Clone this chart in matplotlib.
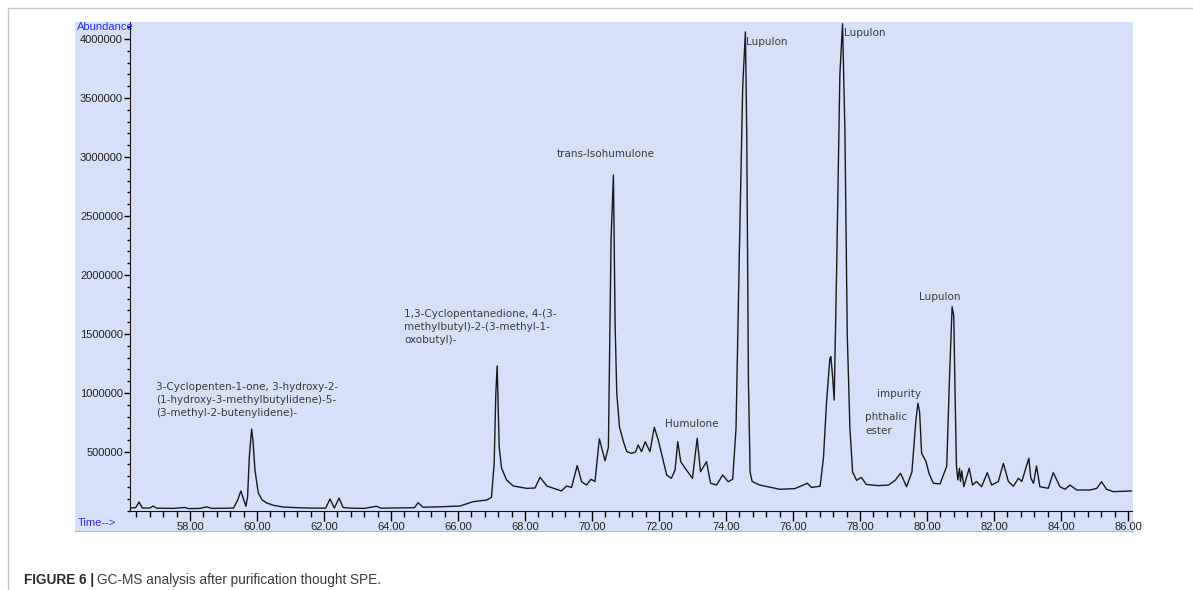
import matplotlib
matplotlib.use("Agg")
import matplotlib.pyplot as plt
from matplotlib.patches import Rectangle
from matplotlib.lines import Line2D
from matplotlib.ticker import MultipleLocator, FixedLocator, FormatStrFormatter

# ---------------------------------------------------------
# TRAZA DEL CROMATOGRAMA (tiempo en min, abundancia)
# ---------------------------------------------------------
tiempo = [
    56.21, 56.38, 56.48, 56.58, 56.80, 56.90, 57.00, 57.50, 57.85, 57.95,
    58.30, 58.50, 58.65, 59.00, 59.30, 59.42, 59.52, 59.60, 59.67, 59.72,
    59.77, 59.84, 59.88, 59.94, 60.04, 60.15, 60.29, 60.50, 60.78, 61.20,
    61.60, 62.05, 62.18, 62.31, 62.45, 62.57, 62.80, 63.20, 63.57, 63.70,
    64.30, 64.70, 64.81, 64.96, 65.50, 66.06, 66.45, 66.86, 67.00, 67.08,
    67.13, 67.17, 67.20, 67.23, 67.30, 67.45, 67.65, 68.05, 68.30, 68.45,
    68.65, 68.94, 69.09, 69.24, 69.39, 69.56, 69.69, 69.84, 69.97, 70.09,
    70.22, 70.39, 70.49, 70.57, 70.64, 70.69, 70.74, 70.82, 70.94, 71.04,
    71.18, 71.30, 71.38, 71.48, 71.59, 71.73, 71.86, 71.98, 72.23, 72.37,
    72.48, 72.56, 72.65, 72.82, 73.00, 73.14, 73.24, 73.42, 73.54, 73.72,
    73.90, 74.07, 74.20, 74.30, 74.40, 74.50, 74.58, 74.62, 74.67, 74.72,
    74.78, 75.01, 75.61, 76.06, 76.43, 76.55, 76.81, 76.91, 77.00, 77.10,
    77.13, 77.18, 77.23, 77.30, 77.40, 77.48, 77.55, 77.62, 77.70, 77.78,
    77.90, 78.04, 78.19, 78.55, 78.85, 79.05, 79.21, 79.39, 79.55, 79.67,
    79.73, 79.78, 79.84, 79.92, 79.97, 80.06, 80.19, 80.39, 80.59, 80.67,
    80.75, 80.80, 80.84, 80.88, 80.92, 80.97, 81.00, 81.04, 81.10, 81.26,
    81.36, 81.48, 81.63, 81.80, 81.93, 82.13, 82.28, 82.43, 82.58, 82.73,
    82.83, 83.04, 83.10, 83.18, 83.27, 83.37, 83.62, 83.77, 83.97, 84.12,
    84.27, 84.47, 84.87, 85.07, 85.21, 85.36, 85.56, 86.13,
]
abundancia = [
    25000, 28000, 76000, 25000, 25000, 42000, 24000, 22000, 30000, 20000,
    22000, 35000, 22000, 23000, 25000, 90000, 170000, 100000, 40000, 120000,
    450000, 695000, 600000, 347000, 153000, 95000, 68000, 48000, 34000, 28000,
    25000, 24000, 102000, 25000, 110000, 30000, 24000, 22000, 40000, 24000,
    26000, 28000, 70000, 32000, 36000, 42000, 79000, 93000, 116000, 400000,
    1000000, 1229000, 900000, 545000, 364000, 263000, 212000, 192000, 195000, 286000,
    212000, 184000, 170000, 212000, 200000, 385000, 248000, 220000, 269000, 250000,
    612000, 425000, 540000, 2300000, 2848000, 1593000, 1000000, 714000, 587000, 503000,
    489000, 500000, 559000, 503000, 587000, 503000, 709000, 600000, 305000, 277000,
    347000, 587000, 418000, 347000, 277000, 616000, 333000, 418000, 235000, 220000,
    305000, 248000, 270000, 700000, 2200000, 3600000, 4060000, 3200000, 1100000, 330000,
    250000, 220000, 184000, 190000, 235000, 200000, 210000, 450000, 913000, 1290000,
    1308000, 1150000, 940000, 2000000, 3700000, 4130000, 3229000, 1500000, 700000, 330000,
    260000, 285000, 225000, 215000, 220000, 260000, 320000, 206000, 330000, 771000,
    913000, 840000, 489000, 447000, 420000, 320000, 235000, 230000, 380000, 1110000,
    1731000, 1650000, 969000, 380000, 263000, 362000, 250000, 340000, 206000, 362000,
    220000, 250000, 206000, 325000, 220000, 250000, 404000, 250000, 210000, 277000,
    250000, 447000, 278000, 235000, 381000, 206000, 192000, 325000, 206000, 184000,
    220000, 178000, 178000, 192000, 248000, 184000, 164000, 170000,
]

# EJES
x_ticks = [58, 60, 62, 64, 66, 68, 70, 72, 74, 76, 78, 80, 82, 84, 86]
y_ticks = [500000, 1000000, 1500000, 2000000, 2500000, 3000000, 3500000, 4000000]

# NOMBRES DE LOS COMPUESTOS
compuestos = [
    "3-Cyclopenten-1-one, 3-hydroxy-2-\n(1-hydroxy-3-methylbutylidene)-5-\n(3-methyl-2-butenylidene)-",
    "1,3-Cyclopentanedione, 4-(3-\nmethylbutyl)-2-(3-methyl-1-\noxobutyl)-",
    "trans-Isohumulone",
    "Humulone",
    "Lupulon",
    "Lupulon",
    "Lupulon",
    "impurity",
    "phthalic\nester",
]

# ---------------------------------------------------------
# FIGURA
# ---------------------------------------------------------
W, H = 1193, 590
AZUL = "#d6e1f8"
AZUL_TEXTO = "#2b2bf0"

fig = plt.figure(figsize=(W / 100, H / 100), dpi=100)
fig.patch.set_facecolor("white")

# marco gris de la figura
fig.add_artist(Line2D([8 / W, 1], [1 - 8 / H, 1 - 8 / H], transform=fig.transFigure,
                      color="#c4c4c4", lw=1))
fig.add_artist(Line2D([8 / W, 8 / W], [0, 1 - 8 / H], transform=fig.transFigure,
                      color="#c4c4c4", lw=1))

# panel azul de fondo
fig.add_artist(Rectangle((75 / W, 1 - 531 / H), 1058 / W, 509 / H,
                         transform=fig.transFigure, facecolor=AZUL,
                         edgecolor="none", zorder=0))
fig.add_artist(Line2D([75 / W, 1133 / W], [1 - 531 / H, 1 - 531 / H],
                      transform=fig.transFigure, color="#aeb8d0", lw=0.8))

ax = fig.add_axes([130 / W, 1 - 511 / H, 1002 / W, 489 / H])
ax.set_facecolor(AZUL)
ax.plot(tiempo, abundancia, color="#1a1a1a", lw=1.0)

ax.set_xlim(56.21, 86.12)
ax.set_ylim(0, 4144000)
ax.spines[["top", "right"]].set_visible(False)
ax.spines[["left", "bottom"]].set_color("#111111")

ax.xaxis.set_major_locator(FixedLocator(x_ticks))
ax.xaxis.set_minor_locator(MultipleLocator(0.4))
ax.xaxis.set_major_formatter(FormatStrFormatter("%.2f"))
ax.yaxis.set_major_locator(FixedLocator(y_ticks))
ax.yaxis.set_minor_locator(MultipleLocator(100000))
ax.yaxis.set_major_formatter(FormatStrFormatter("%d"))

ax.tick_params(axis="x", which="major", length=7, width=1, pad=1)
ax.tick_params(axis="x", which="minor", length=4, width=1)
ax.tick_params(axis="y", which="major", length=4, width=1, pad=1)
ax.tick_params(axis="y", which="minor", length=2.5, width=1)
for lbl in ax.get_xticklabels() + ax.get_yticklabels():
    lbl.set_fontfamily("Liberation Sans")
    lbl.set_fontsize(8)
    lbl.set_color("#222222")

fig.text(77 / W, 1 - 27 / H, "Abundance", color=AZUL_TEXTO, fontsize=8,
         family="Liberation Sans", va="center", ha="left")
fig.text(78 / W, 1 - 523 / H, "Time-->", color=AZUL_TEXTO, fontsize=8,
         family="Liberation Sans", va="center", ha="left")

# etiquetas de los picos
pos_etiquetas = [
    (56.99, 940000), (64.39, 1559000), (68.96, 3026000), (72.18, 737000),
    (74.60, 3975000), (77.52, 4051000), (79.76, 1814000), (78.51, 992000),
    (78.15, 737000),
]
for texto, (tx, ty) in zip(compuestos, pos_etiquetas):
    ax.text(tx, ty, texto, fontsize=7.5, color="#3a3a3a", ha="left", va="center",
            linespacing=1.42, family="DejaVu Sans")

# pie de figura
pie1 = fig.text(24 / W, 1 - 584 / H, "FIGURE 6 |", fontsize=9.8, fontweight="bold",
                color="#2a2a2a", family="Liberation Sans",
                va="baseline", ha="left")
fig.canvas.draw()
bb = pie1.get_window_extent()
fig.text((bb.x1 + 3) / W, 1 - 584 / H, "GC-MS analysis after purification thought SPE.",
         fontsize=9.8, color="#3a3a3a", family="Liberation Sans",
         va="baseline", ha="left")

fig.savefig("out.png", dpi=100, facecolor="white")
